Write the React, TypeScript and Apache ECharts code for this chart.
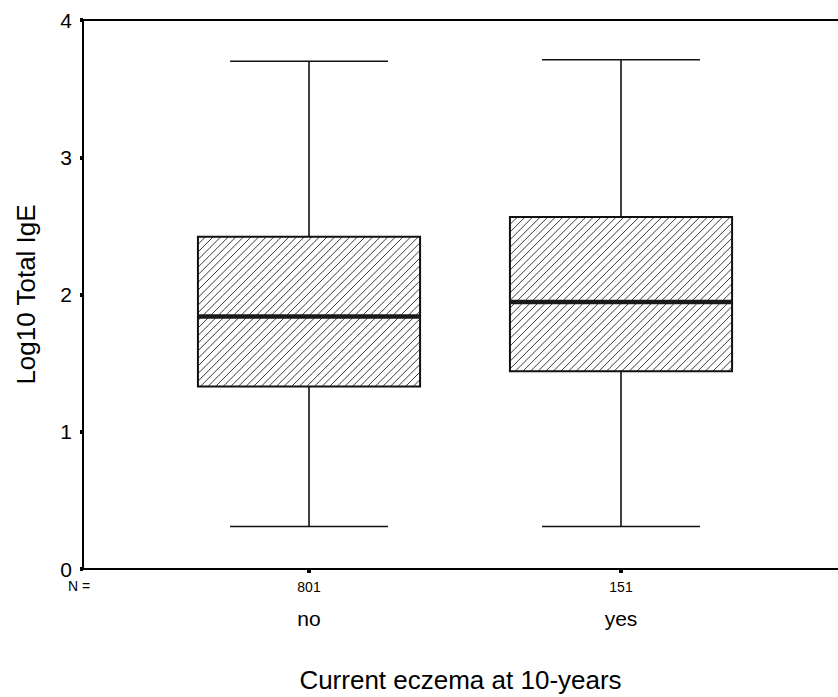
import React, { useEffect, useRef } from 'react';
import * as echarts from 'echarts';

// ---- data ----
const categories = ['no', 'yes'];
const counts = [801, 151];
const positions = [1, 2];
const whiskerLow = [0.31, 0.31];
const q1 = [1.33, 1.44];
const median = [1.84, 1.945];
const q3 = [2.42, 2.565];
const whiskerHigh = [3.7, 3.71];
const yTickValues = [0, 1, 2, 3, 4];

const FONT = '"Liberation Sans", Arial, Helvetica, sans-serif';

export default function App() {
  const ref = useRef<HTMLDivElement>(null);

  useEffect(() => {
    if (!ref.current) return;
    const chart = echarts.init(ref.current, undefined, { renderer: 'svg' });

    const boxData = positions.map((p, i) => [
      p,
      whiskerLow[i],
      q1[i],
      median[i],
      q3[i],
      whiskerHigh[i],
    ]);

    const BOX_HW = 0.356;
    const CAP_HW = 0.253;
    const HATCH = 7.6;

    const renderItem = (params: any, api: any) => {
      const x = api.value(0);
      const lo = api.value(1);
      const a = api.value(2);
      const m = api.value(3);
      const b = api.value(4);
      const hi = api.value(5);
      const [xl, y3] = api.coord([x - BOX_HW, b]);
      const [xr, y1] = api.coord([x + BOX_HW, a]);
      const [xc, ym] = api.coord([x, m]);
      const [, yhi] = api.coord([x, hi]);
      const [, ylo] = api.coord([x, lo]);
      const [cl] = api.coord([x - CAP_HW, hi]);
      const [cr] = api.coord([x + CAP_HW, hi]);

      const lineStyle = { stroke: '#111', lineWidth: 1.6 };
      const children: any[] = [
        { type: 'line', shape: { x1: xc, y1: y3, x2: xc, y2: yhi }, style: lineStyle },
        { type: 'line', shape: { x1: cl, y1: yhi, x2: cr, y2: yhi }, style: lineStyle },
        { type: 'line', shape: { x1: xc, y1: y1, x2: xc, y2: ylo }, style: lineStyle },
        { type: 'line', shape: { x1: cl, y1: ylo, x2: cr, y2: ylo }, style: lineStyle },
        {
          type: 'rect',
          shape: { x: xl, y: y3, width: xr - xl, height: y1 - y3 },
          style: { fill: '#fff', stroke: null },
        },
      ];
      // diagonal hatch lines "/" clipped to the box
      const x0 = xl, x1 = xr, yTop = y3, yBot = y1;
      for (let c = x0 + yTop + HATCH; c < x1 + yBot; c += HATCH) {
        const xa = Math.max(x0, c - yBot);
        const xb = Math.min(x1, c - yTop);
        if (xb <= xa) continue;
        children.push({
          type: 'line',
          shape: { x1: xa, y1: c - xa, x2: xb, y2: c - xb },
          style: { stroke: '#222', lineWidth: 0.9 },
        });
      }
      children.push({
        type: 'rect',
        shape: { x: xl, y: y3, width: xr - xl, height: y1 - y3 },
        style: { fill: 'none', stroke: '#111', lineWidth: 2 },
      });
      children.push({
        type: 'line',
        shape: { x1: xl, y1: ym, x2: xr, y2: ym },
        style: { stroke: '#1a1a1a', lineWidth: 4.5 },
      });
      return { type: 'group', children };
    };

    const option: any = {
      animation: false,
      backgroundColor: '#fff',
      textStyle: { fontFamily: FONT, color: '#000' },
      grid: { left: 83, right: 0, top: 20, bottom: 128, containLabel: false, outerBoundsMode: 'none' },
      xAxis: [
        {
          type: 'value',
          position: 'bottom',
          min: 0.2756,
          max: 2.6955,
          splitLine: { show: false },
          axisLine: { show: true, onZero: false, lineStyle: { color: '#000', width: 2 } },
          axisTick: {
            show: true,
            customValues: positions,
            length: 4,
            inside: false,
            lineStyle: { color: '#000', width: 4 },
          },
          axisLabel: {
            show: true,
            customValues: positions,
            margin: 10,
            color: '#000',
            fontFamily: FONT,
            formatter: (v: number) => {
              const i = positions.indexOf(Math.round(v));
              if (i < 0) return '';
              return `{n|${counts[i]}}\n{c|${categories[i]}}`;
            },
            rich: {
              n: { fontSize: 14, lineHeight: 16, fontFamily: FONT, color: '#000' },
              c: { fontSize: 21, lineHeight: 46, fontFamily: FONT, color: '#000' },
            },
          },
          name: 'Current eczema at 10-years',
          nameLocation: 'middle',
          nameGap: 98,
          nameTextStyle: { fontSize: 26, fontFamily: FONT, color: '#000' },
        },
        {
          type: 'value',
          position: 'top',
          min: 0.2756,
          max: 2.6955,
          splitLine: { show: false },
          axisLine: { show: true, onZero: false, lineStyle: { color: '#000', width: 2 } },
          axisTick: { show: false },
          axisLabel: { show: false },
        },
      ],
      yAxis: {
        type: 'value',
        min: yTickValues[0],
        max: yTickValues[yTickValues.length - 1],
        interval: 1,
        splitLine: { show: false },
        axisLine: { show: true, onZero: false, lineStyle: { color: '#000', width: 2 } },
        axisTick: { show: true, length: 3, inside: false, lineStyle: { color: '#000', width: 4 } },
        axisLabel: { fontSize: 21, margin: 11, color: '#000', fontFamily: FONT },
        name: 'Log10 Total IgE',
        nameLocation: 'middle',
        nameGap: 44,
        nameTextStyle: { fontSize: 26, fontFamily: FONT, color: '#000' },
      },
      graphic: [
        {
          type: 'text',
          left: 68,
          top: 579,
          style: { text: 'N =', fontSize: 14, fontFamily: FONT, fill: '#000' },
        },
      ],
      series: [
        {
          type: 'custom',
          renderItem,
          data: boxData,
          encode: { x: 0, y: [1, 2, 3, 4, 5] },
          clip: false,
        },
      ],
    };

    chart.setOption(option);
    return () => chart.dispose();
  }, []);

  return (
    <div
      ref={ref}
      style={{ position: 'fixed', left: 0, top: 0, width: 838, height: 697, background: '#fff' }}
    />
  );
}
